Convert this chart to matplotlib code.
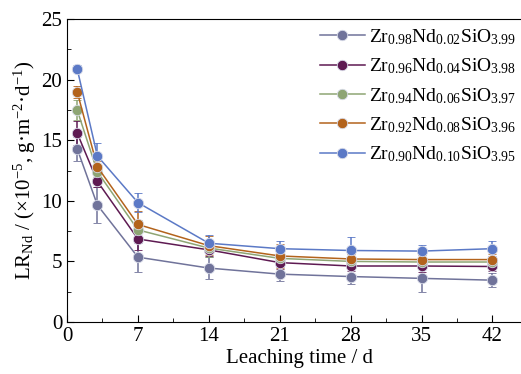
import matplotlib
matplotlib.use("Agg")
import matplotlib.pyplot as plt
from matplotlib.lines import Line2D

plt.rcParams['font.family'] = ['Liberation Serif', 'DejaVu Serif']
plt.rcParams['mathtext.fontset'] = 'custom'
plt.rcParams['mathtext.rm'] = 'Liberation Serif'
plt.rcParams['mathtext.default'] = 'regular'

days = [1, 3, 7, 14, 21, 28, 35, 42]

labels = [
    r'Zr$_{0.98}$Nd$_{0.02}$SiO$_{3.99}$',
    r'Zr$_{0.96}$Nd$_{0.04}$SiO$_{3.98}$',
    r'Zr$_{0.94}$Nd$_{0.06}$SiO$_{3.97}$',
    r'Zr$_{0.92}$Nd$_{0.08}$SiO$_{3.96}$',
    r'Zr$_{0.90}$Nd$_{0.10}$SiO$_{3.95}$',
]
colors = ['#70739a', '#5e1a52', '#8ea574', '#b3631c', '#5b79c6']

lr_002 = [14.3, 9.65, 5.35, 4.45, 3.95, 3.75, 3.6, 3.45]
lr_004 = [15.6, 11.6, 6.85, 5.95, 4.9, 4.62, 4.62, 4.58]
lr_006 = [17.5, 12.4, 7.6, 6.1, 5.25, 5.0, 4.95, 4.95]
lr_008 = [19.0, 12.8, 8.05, 6.3, 5.45, 5.2, 5.15, 5.15]
lr_010 = [20.9, 13.7, 9.85, 6.5, 6.05, 5.9, 5.85, 6.05]

err_002 = [1.0, 1.5, 1.2, 0.9, 0.6, 0.6, 1.15, 0.6]
err_004 = [1.0, 0.5, 0.9, 0.5, 0.5, 0.4, 0.5, 0.4]
err_006 = [0.8, 0.4, 0.8, 0.7, 0.5, 0.4, 0.4, 0.4]
err_008 = [0.5, 0.5, 1.1, 0.8, 1.0, 0.4, 0.4, 0.5]
err_010 = [0.3, 1.1, 0.8, 0.7, 0.6, 1.1, 0.5, 0.6]

series = [lr_002, lr_004, lr_006, lr_008, lr_010]
errors = [err_002, err_004, err_006, err_008, err_010]

fig = plt.figure(figsize=(5.21, 3.74), dpi=100)
# right spine sits past the image edge, as in the reference
ax = fig.add_axes([67 / 521, 52 / 374, 466 / 521, 303 / 374])

handles = []
for vals, err, col, lab in zip(series, errors, colors, labels):
    ax.errorbar(days, vals, yerr=err, color=col, lw=1.1, elinewidth=1.1,
                capsize=3, capthick=1.1, marker='o', ms=7.5,
                mfc=col, mec='#d8dbe8', mew=0.6)
    handles.append(Line2D([0], [0], color=col, lw=1.1, marker='o', ms=7.5,
                          mfc=col, mec='#d8dbe8', mew=0.6, label=lab))

ax.set_xlim(0, 46)
ax.set_ylim(0, 25)
ax.set_xticks([0, 7, 14, 21, 28, 35, 42])
ax.set_xticks([3.5, 10.5, 17.5, 24.5, 31.5, 38.5], minor=True)
ax.set_yticks([0, 5, 10, 15, 20, 25])
ax.set_yticks([2.5, 7.5, 12.5, 17.5, 22.5], minor=True)
ax.tick_params(which='both', direction='in', labelsize=15)
ax.tick_params(which='major', length=5)
ax.tick_params(which='minor', length=3)

ax.set_xlabel('Leaching time / d', fontsize=15, labelpad=2)
ax.set_ylabel(r'LR$_{Nd}$ / (×10$^{-5}$, g·m$^{-2}$·d$^{-1}$)', fontsize=15, labelpad=2)

fig.legend(handles=handles, loc='upper left', bbox_to_anchor=(320 / 521, 1 - 27 / 374),
           frameon=False, fontsize=14, handlelength=2.3, handletextpad=0.2,
           labelspacing=0.5, borderaxespad=0.0, borderpad=0.0)

fig.savefig('out.png', dpi=100)
